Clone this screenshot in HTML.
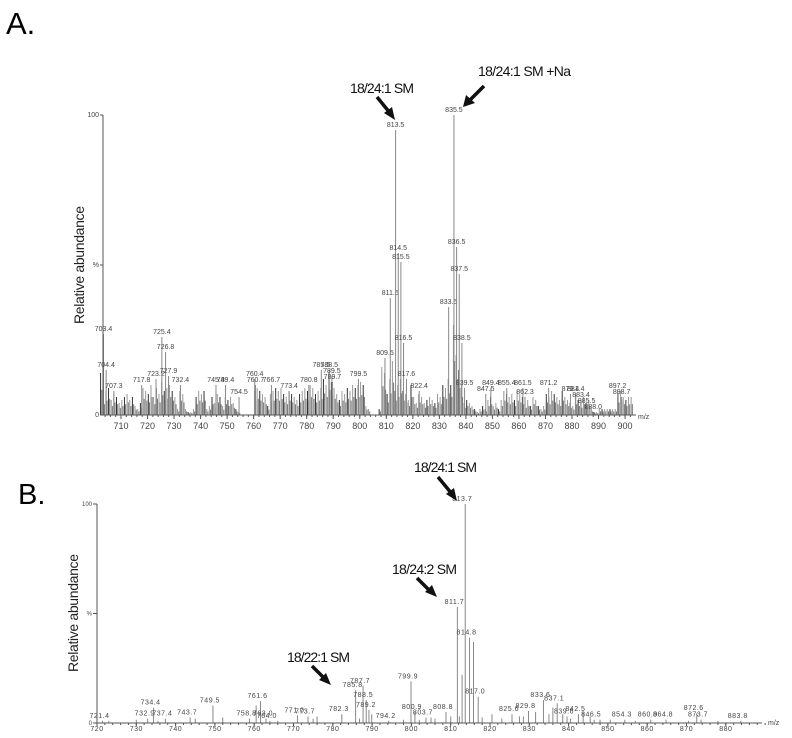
<!DOCTYPE html>
<html><head><meta charset="utf-8"><style>
html,body{margin:0;padding:0;background:#fff;}
svg{display:block;font-family:"Liberation Sans",sans-serif;}
</style></head><body>
<svg id="fig" width="792" height="738" viewBox="0 0 792 738" xmlns="http://www.w3.org/2000/svg">
<text x="6" y="34" font-size="31" fill="#000">A.</text>
<text x="18" y="504" font-size="29" fill="#000">B.</text>
<text transform="translate(84,265) rotate(-90)" text-anchor="middle" font-size="14" fill="#222" textLength="118">Relative abundance</text>
<text transform="translate(78,613) rotate(-90)" text-anchor="middle" font-size="14" fill="#222" textLength="118">Relative abundance</text>
<g id="pa"></g>
<g id="pb"></g>
<g>
<text x="350" y="93" font-size="14" fill="#111" textLength="64">18/24:1 SM</text>
<line x1="377" y1="97" x2="390" y2="113" stroke="#111" stroke-width="3.5"/>
<polygon points="395,120 384,113 392,107" fill="#111"/>
</g>
<g>
<text x="478" y="76" font-size="14" fill="#111" textLength="93">18/24:1 SM +Na</text>
<line x1="484" y1="86" x2="470" y2="100" stroke="#111" stroke-width="3.5"/>
<polygon points="463,107 466,95 475,103" fill="#111"/>
</g>
<g>
<text x="414" y="472" font-size="14" fill="#111" textLength="63">18/24:1 SM</text>
<line x1="438" y1="477" x2="452" y2="494" stroke="#111" stroke-width="3.5"/>
<polygon points="457,501 446,494 454,488" fill="#111"/>
</g>
<g>
<text x="392" y="574" font-size="14" fill="#111" textLength="65">18/24:2 SM</text>
<line x1="417" y1="578" x2="430" y2="591" stroke="#111" stroke-width="3.5"/>
<polygon points="437,597 425,592 432,585" fill="#111"/>
</g>
<g>
<text x="287" y="662" font-size="14" fill="#111" textLength="63">18/22:1 SM</text>
<line x1="312" y1="666" x2="324" y2="678" stroke="#111" stroke-width="3.5"/>
<polygon points="331,685 319,680 326,673" fill="#111"/>
</g>
</svg>
<script>
const NS="http://www.w3.org/2000/svg";
// Panel A data
const aLabMz=[703.4,704.4,707.3,717.8,723.2,725.4,726.8,727.9,732.4,745.8,749.4,754.5,760.4,760.7,766.7,773.4,780.8,785.5,788.5,789.5,789.7,799.5,809.5,811.5,813.5,814.5,815.5,816.5,817.6,822.4,833.5,835.5,836.5,837.5,838.5,839.5,847.5,849.4,855.4,861.5,862.3,871.2,879.4,881.4,883.4,885.5,888.0,897.2,898.7];
const aLabInt=[27,15,8,10,12,26,21,13,10,10,10,6,12,10,10,8,10,15,15,13,11,12,19,39,95,54,51,24,12,8,36,100,56,47,24,9,7,9,9,9,6,9,7,7,5,3,1,8,6];
const aNoiseStart=702;
const aNoise=[14,6,8,9,5,7,6,4,5,6, 7,5,6,3,2,4,9,8,7,10, 6,9,7,11,8,9,10,8,6,2, 8,7,2,1,1,2,6,8,7,8, 2,3,6,4,7,6,3,6,5,6, 4,2,1,0,0,0,0,0,8,9, 8,7,6,3,7,8,9,8,9,7, 6,8,7,6,5,7,8,9,8,10, 9,7,8,9,12,10,14,11,9,7, 5,8,7,9,8,10,9,10,11,10, 3,2,0,0,0,2,16,14,7,12, 18,8,10,12,8,7,5,10,6,4, 7,6,4,5,6,5,4,7,6,10, 9,12,10,30,20,15,10,4,5,4, 3,2,1,2,3,2,5,6,3,4, 2,5,8,7,6,7,5,8,7,6, 4,5,3,6,5,3,2,3,7,6, 8,7,6,5,8,6,5,4,3,6, 5,4,6,4,5,2,1,1,2,2, 2,2,2,2,2,7,8,6,5,6, 6];
const aTicks=[710,720,730,740,750,760,770,780,790,800,810,820,830,840,850,860,870,880,890,900];
// Panel B data
const bLabMz=[721.4,732.9,734.4,737.4,743.7,749.5,758.8,761.6,763.0,764.0,771.0,773.7,782.3,785.8,787.7,788.5,789.2,794.2,799.9,800.9,803.7,808.8,811.7,813.7,814.8,817.0,825.6,829.8,833.6,837.1,839.6,842.5,846.5,854.3,860.9,864.8,872.6,873.7,883.8];
const bLabInt=[1,2,7,2,2.5,8,2,10,2,1,3.5,3,4,15,17,10.5,6,1,19,5,2.5,5,53,100,39,12,4,5.5,10.5,9,3,4,1.5,1.5,1.5,1.5,4.5,1.5,1];
const bLabText=["721.4","732.9","734.4","737.4","743.7","749.5","758.8","761.6","763.0","764.0","771.0","773.7","782.3","785.8","787.7","788.5","789.2","794.2","799.9","800.9","803.7","808.8","811.7","813.7","814.8","817.0","825.6","829.8","833.6","837.1","839.6","842.5","846.5","854.3","860.9","864.8","872.6","873.7","883.8"];
const bOtherMz=[723,730,735.5,745,752,760.5,766,775,776,786.8,789.9,798,802,805,806,810,812.2,812.9,815.8,818,820.5,823,827.5,828.5,831.6,835,836,838.5,840.5,843.7,845.5,848,850.6,857,870.5,878];
const bOtherInt=[1,1.5,1,2,2.5,8,1,2,3,2,4,1.5,1.5,2.5,2,3,3,22,37,2.5,4,2,3,3,5,4,7,4,2,5,3,1.5,1.5,1,1,1];
const bTicks=[720,730,740,750,760,770,780,790,800,810,820,830,840,850,860,870,880];

function el(parent,tag,attrs,text){const e=document.createElementNS(NS,tag);for(const k in attrs)e.setAttribute(k,attrs[k]);if(text!==undefined)e.textContent=text;parent.appendChild(e);return e;}

// Panel A axes
const aX=v=>121+(v-710)*2.653;
const aY=v=>415-v*3.0;
const pa=document.getElementById('pa');
for(let i=0;i<aNoise.length;i++){
  const mz=aNoiseStart+i+0.3;
  if(aNoise[i]<=0)continue;
  const l=el(pa,'line',{x1:aX(mz),x2:aX(mz),y1:aY(0),y2:aY(aNoise[i]),stroke:(i%3===0?'#333':'#999'),'stroke-width':1});
  
  
  const m2=mz+0.45, v2=aNoise[i]*0.6;
  const l2=el(pa,'line',{x1:aX(m2),x2:aX(m2),y1:aY(0),y2:aY(v2),stroke:'#777','stroke-width':1});
  
  
}
for(let i=0;i<aLabMz.length;i++){
  const x=aX(aLabMz[i]),y=aY(aLabInt[i]);
  const l=el(pa,'line',{x1:x,x2:x,y1:aY(0),y2:y,stroke:'#888','stroke-width':1});
  
  
  const t=el(pa,'text',{x:x,y:y-3,'font-size':7,'text-anchor':'middle',fill:'#444'},aLabMz[i].toFixed(1));
  
  
}
el(pa,'line',{x1:103,x2:103,y1:aY(100),y2:aY(0),stroke:'#555','stroke-width':1});
el(pa,'line',{x1:103,x2:636,y1:aY(0),y2:aY(0),stroke:'#555','stroke-width':1});
[[100,'100'],[50,'%'],[0,'0']].forEach(([v,s])=>{el(pa,'line',{x1:100,x2:103,y1:aY(v),y2:aY(v),stroke:'#555'});el(pa,'text',{x:99,y:aY(v)+2,'font-size':7,'text-anchor':'end',fill:'#444'},s);});
for(let v=704;v<=902;v+=2){el(pa,'line',{x1:aX(v),x2:aX(v),y1:aY(0),y2:aY(0)+2,stroke:'#555'});}
aTicks.forEach(v=>{el(pa,'line',{x1:aX(v),x2:aX(v),y1:aY(0),y2:aY(0)+4,stroke:'#555'});
  const t=el(pa,'text',{x:aX(v),y:429,'font-size':9,'text-anchor':'middle',fill:'#444'},String(v));
  
  });
el(pa,'text',{x:638,y:419,'font-size':7,fill:'#444'},'m/z');

// Panel B axes
const bX=v=>97+(v-720)*3.93;
const bY=v=>723-v*2.19;
const pb=document.getElementById('pb');
for(let i=0;i<bOtherMz.length;i++){
  const x=bX(bOtherMz[i]);
  const l=el(pb,'line',{x1:x,x2:x,y1:bY(0),y2:bY(bOtherInt[i]),stroke:'#888','stroke-width':1});
  
  
}
for(let i=0;i<bLabMz.length;i++){
  const x=bX(bLabMz[i]),y=bY(bLabInt[i]);
  const l=el(pb,'line',{x1:x,x2:x,y1:bY(0),y2:y,stroke:'#888','stroke-width':1});
  
  
  const t=el(pb,'text',{x:x-3,y:y-3,'font-size':7,'text-anchor':'middle',fill:'#444','letter-spacing':'0.5'},bLabText[i]);
  
  
}
el(pb,'line',{x1:97,x2:97,y1:bY(100),y2:bY(0),stroke:'#555','stroke-width':1});
el(pb,'line',{x1:97,x2:762,y1:bY(0),y2:bY(0),stroke:'#555','stroke-width':1});
[[100,'100'],[50,'%'],[0,'0']].forEach(([v,s])=>{el(pb,'line',{x1:93,x2:97,y1:bY(v),y2:bY(v),stroke:'#555'});el(pb,'text',{x:92,y:bY(v)+2,'font-size':6,'text-anchor':'end',fill:'#444'},s);});
for(let v=720;v<=890;v+=2){el(pb,'line',{x1:bX(v),x2:bX(v),y1:bY(0),y2:bY(0)+2,stroke:'#555'});}
bTicks.forEach(v=>{el(pb,'line',{x1:bX(v),x2:bX(v),y1:bY(0),y2:bY(0)+3,stroke:'#555'});
  const t=el(pb,'text',{x:bX(v),y:731,'font-size':7,'text-anchor':'middle',fill:'#444','letter-spacing':'0.5'},String(v));
  
  });
el(pb,'text',{x:768,y:725,'font-size':7,fill:'#444'},'m/z');
</script>
</body></html>
